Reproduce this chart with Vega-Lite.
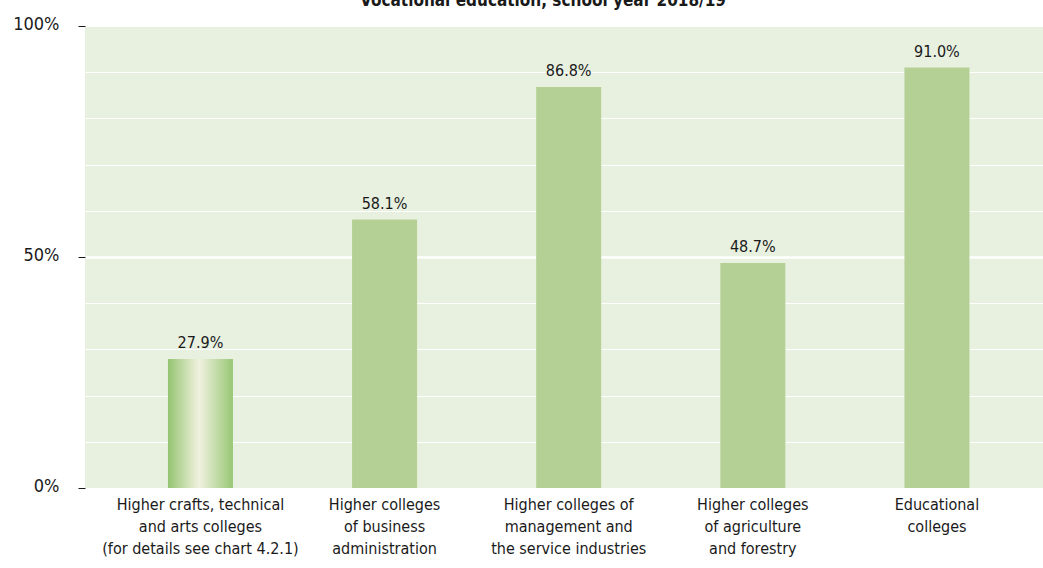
{
  "$schema": "https://vega.github.io/schema/vega-lite/v6.json",
  "width": 958,
  "height": 462,
  "autosize": {"type": "none"},
  "padding": {"left": 85, "top": 26, "right": 0, "bottom": 80},
  "background": "#ffffff",
  "title": {
    "text": "Vocational education, school year 2018/19",
    "font": "DejaVu Sans Condensed, Liberation Sans Narrow, sans-serif",
    "fontSize": 17,
    "fontWeight": "bold",
    "color": "#1a1a1a",
    "anchor": "middle",
    "dx": -21,
    "offset": 5
  },
  "config": {
    "view": {"fill": "#e8f0e0", "stroke": null},
    "font": "DejaVu Sans Condensed, Liberation Sans Narrow, sans-serif"
  },
  "data": {
    "values": [
      {"order": 1, "category": "Higher crafts, technical|and arts colleges|(for details see chart 4.2.1)", "value": 0.279, "label": "27.9%", "special": true},
      {"order": 2, "category": "Higher colleges|of business|administration", "value": 0.581, "label": "58.1%", "special": false},
      {"order": 3, "category": "Higher colleges of|management and|the service industries", "value": 0.868, "label": "86.8%", "special": false},
      {"order": 4, "category": "Higher colleges|of agriculture|and forestry", "value": 0.487, "label": "48.7%", "special": false},
      {"order": 5, "category": "Educational|colleges", "value": 0.91, "label": "91.0%", "special": false}
    ]
  },
  "encoding": {
    "x": {
      "field": "category",
      "type": "nominal",
      "sort": {"field": "order", "op": "min"},
      "scale": {"paddingInner": 0.647, "paddingOuter": 0.425, "align": 0.53},
      "axis": {
        "title": null,
        "labelAngle": 0,
        "labelLimit": 0,
        "labelExpr": "split(datum.label, '|')",
        "labelFont": "DejaVu Sans Condensed, Liberation Sans Narrow, sans-serif",
        "labelFontSize": 16,
        "labelLineHeight": 22,
        "labelColor": "#1a1a1a",
        "labelPadding": 8,
        "labelBaseline": "top",
        "domain": false,
        "ticks": false,
        "grid": false
      }
    },
    "y": {
      "field": "value",
      "type": "quantitative",
      "scale": {"domain": [0, 1], "nice": false, "zero": true},
      "axis": {
        "title": null,
        "values": [0, 0.1, 0.2, 0.3, 0.4, 0.5, 0.6, 0.7, 0.8, 0.9, 1],
        "labelExpr": "datum.value == 0 || datum.value == 0.5 || datum.value == 1 ? format(datum.value, '.0%') : ''",
        "labelFont": "DejaVu Sans Condensed, Liberation Sans Narrow, sans-serif",
        "labelFontSize": 18,
        "labelColor": "#1a1a1a",
        "labelPadding": 19,
        "labelOffset": -2,
        "tickSize": 7,
        "tickColor": "#1a1a1a",
        "tickWidth": 1,
        "tickOpacity": {"condition": {"test": "datum.value == 0 || datum.value == 0.5 || datum.value == 1", "value": 1}, "value": 0},
        "domain": false,
        "grid": true,
        "gridColor": "#ffffff",
        "gridOpacity": 1,
        "gridWidth": {"condition": {"test": "datum.value == 0.5", "value": 2.5}, "value": 1.2},
        "zindex": 0
      }
    }
  },
  "layer": [
    {
      "mark": {"type": "bar", "color": "#b5d095"},
      "transform": [{"filter": "!datum.special"}]
    },
    {
      "mark": {
        "type": "bar",
        "color": {
          "gradient": "linear",
          "x1": 0, "y1": 0, "x2": 1, "y2": 0,
          "stops": [
            {"offset": 0, "color": "#95c571"},
            {"offset": 0.48, "color": "#f1f1df"},
            {"offset": 1, "color": "#98c775"}
          ]
        }
      },
      "transform": [{"filter": "datum.special"}]
    },
    {
      "mark": {
        "type": "text",
        "baseline": "bottom",
        "dy": -8,
        "fontSize": 16,
        "color": "#1a1a1a"
      },
      "encoding": {
        "text": {"field": "label"}
      }
    }
  ]
}
